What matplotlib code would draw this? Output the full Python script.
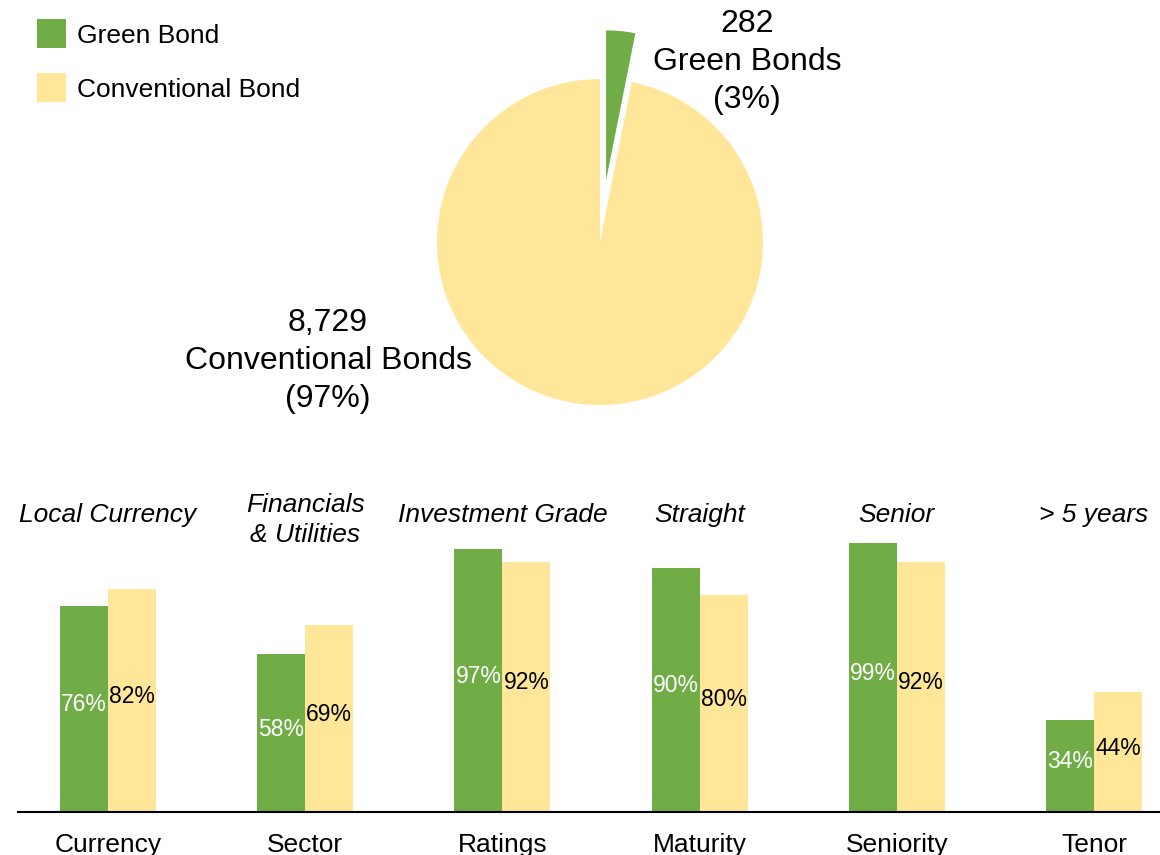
import numpy as np
import matplotlib
matplotlib.use("Agg")
import matplotlib.pyplot as plt

plt.rcParams['font.family'] = ['Liberation Sans', 'DejaVu Sans']

# pie data: number of bonds
pie_labels = ["Green Bonds", "Conventional Bonds"]
pie_counts = [282, 8729]
pie_pct = [3, 97]

# bar data: share of bonds with each feature (%)
categories = ["Currency", "Sector", "Ratings", "Maturity", "Seniority", "Tenor"]
features = ["Local Currency", "Financials\n& Utilities", "Investment Grade",
            "Straight", "Senior", "> 5 years"]
green_share = [76, 58, 97, 90, 99, 34]
conv_share = [82, 69, 92, 80, 92, 44]

green = "#70AD47"
yellow = "#FFE699"

W, H = 1160, 855
fig = plt.figure(figsize=(W / 100, H / 100), dpi=100)

# ---- pie ----
cx, cy, box = 600, 242, 400
ax_pie = fig.add_axes([(cx - box / 2) / W, (H - cy - box / 2) / H, box / W, box / H])
wedges, _ = ax_pie.pie(pie_counts, colors=[green, yellow], startangle=90,
                       counterclock=False, explode=[0.38, 0], radius=1)
wedges[0].set_radius(0.92)
lim = box / 2 / 163
ax_pie.set_xlim(-lim, lim)
ax_pie.set_ylim(-lim, lim)
ax_pie.set_aspect("equal")
ax_pie.axis("off")

ax_pie.text((747 - cx) / 163, (cy - 62) / 163,
            "%d\n%s\n(%d%%)" % (pie_counts[0], pie_labels[0], pie_pct[0]),
            ha="center", va="center", fontsize=23, linespacing=1.36)
ax_pie.text((328 - cx) / 163, (cy - 361) / 163,
            "{:,}\n{}\n({}%)".format(pie_counts[1], pie_labels[1], pie_pct[1]),
            ha="center", va="center", fontsize=23, linespacing=1.36)

# ---- bars ----
x0, step, base = 108, 197.2, 812
k = 2.716  # pixels per percent
left = 18
ax = fig.add_axes([left / W, (H - base) / H, (W - left) / W, 100 * k / H])
x = np.arange(len(categories))
bw = 48 / step
b1 = ax.bar(x - bw / 2, green_share, bw, color=green, label="Green Bond")
b2 = ax.bar(x + bw / 2, conv_share, bw, color=yellow, label="Conventional Bond")
ax.set_xlim(-(x0 - left) / step, (W - x0) / step)
ax.set_ylim(0, 100)

for i in range(len(categories)):
    ax.text(x[i] - bw / 2, green_share[i] / 2 + 1.5, "%d%%" % green_share[i],
            ha="center", va="center", color="white", fontsize=16.5)
    ax.text(x[i] + bw / 2, conv_share[i] / 2 + 1.5, "%d%%" % conv_share[i],
            ha="center", va="center", color="black", fontsize=16.5)
    yy = 107.5 if "\n" in features[i] else 109.2
    ax.text(x[i], yy, features[i], ha="center", va="center", style="italic",
            fontsize=19, linespacing=1.3, clip_on=False)

ax.set_xticks(x)
ax.set_xticklabels(categories, fontsize=19)
ax.tick_params(axis="x", length=0, pad=15)
ax.set_yticks([])
for s in ["top", "right", "left"]:
    ax.spines[s].set_visible(False)
ax.spines["bottom"].set_linewidth(1.5)
ax.spines["bottom"].set_color("black")

fig.legend(handles=[b1, b2], loc="upper left", frameon=False, fontsize=19,
           bbox_to_anchor=(37 / W, 1 - 19.5 / H), borderpad=0, borderaxespad=0,
           handlelength=1.1, handleheight=1.3, handletextpad=0.4,
           labelspacing=0.95)

fig.savefig("out.png", dpi=100, facecolor="white")
